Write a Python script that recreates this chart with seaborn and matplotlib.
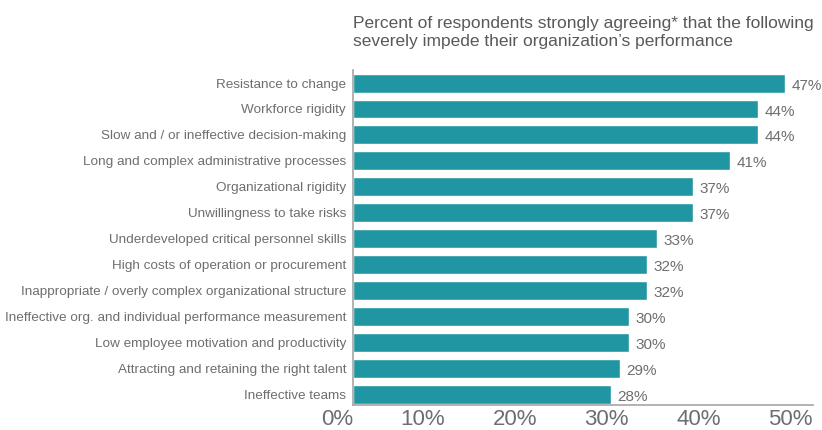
import matplotlib
matplotlib.use("Agg")
import matplotlib.pyplot as plt
import seaborn as sns
import pandas as pd

# Data
categories = [
    "Resistance to change",
    "Workforce rigidity",
    "Slow and / or ineffective decision-making",
    "Long and complex administrative processes",
    "Organizational rigidity",
    "Unwillingness to take risks",
    "Underdeveloped critical personnel skills",
    "High costs of operation or procurement",
    "Inappropriate / overly complex organizational structure",
    "Ineffective org. and individual performance measurement",
    "Low employee motivation and productivity",
    "Attracting and retaining the right talent",
    "Ineffective teams",
]
values = [47, 44, 44, 41, 37, 37, 33, 32, 32, 30, 30, 29, 28]
tick_values = [0, 10, 20, 30, 40, 50]
title = ("Percent of respondents strongly agreeing* that the following\n"
         "severely impede their organization\u2019s performance")

df = pd.DataFrame({"item": categories, "pct": values})

sns.set_style("white")
plt.rcParams["font.family"] = ["Liberation Sans", "DejaVu Sans"]

bar_color = "#2196a3"
text_gray = "#6d6e71"
axis_gray = "#a6a6a6"

fig = plt.figure(figsize=(8.22, 4.30), dpi=100)
ax = fig.add_axes([0.4294, 0.058, 0.5596, 0.779])

sns.barplot(data=df, x="pct", y="item", orient="h", color=bar_color,
            saturation=1, width=0.73, ax=ax)

# Value labels to the right of each bar
for i, v in enumerate(values):
    ax.text(v + 0.7, i + 0.1, f"{v}%", va="center", ha="left",
            fontsize=11, color=text_gray)

ax.set_xlim(0, 50)
ax.set_ylim(12.42, -0.5)
ax.set_xticks(tick_values)
ax.set_xticklabels([f"{t}%" for t in tick_values], ha="right")
ax.tick_params(axis="x", labelsize=16, colors=text_gray, length=0, pad=3)
ax.tick_params(axis="y", labelsize=9.7, colors=text_gray, length=0, pad=5)
ax.set_xlabel("")
ax.set_ylabel("")

for side in ["top", "right"]:
    ax.spines[side].set_visible(False)
for side in ["left", "bottom"]:
    ax.spines[side].set_color(axis_gray)
    ax.spines[side].set_linewidth(1.2)

fig.text(0.4294, 0.885, title, ha="left", va="bottom", fontsize=12.5,
         color="#58595b", linespacing=1.3)

fig.savefig("out.png", dpi=100)
